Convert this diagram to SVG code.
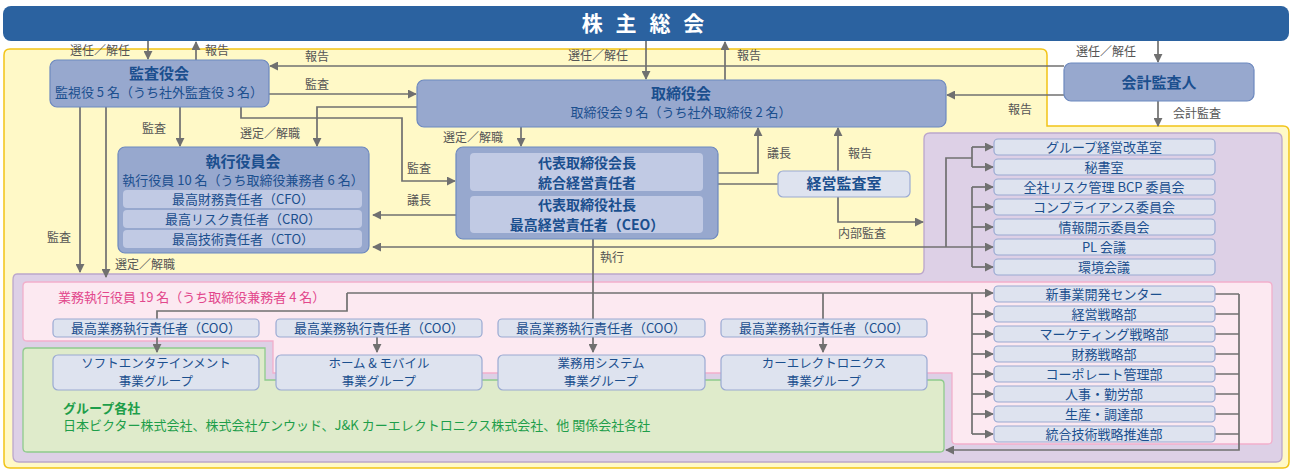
<svg xmlns="http://www.w3.org/2000/svg" width="1291" height="470" viewBox="0 0 1291 470">
<defs>
<style>
text{font-family:"Noto Sans CJK JP","Noto Sans",sans-serif;}
.t{fill:#1B4F8E;font-size:13px;text-anchor:middle;}
.t2{fill:#1B4F8E;font-size:12.5px;text-anchor:middle;}
.tb{fill:#1B4F8E;font-size:15px;font-weight:bold;text-anchor:middle;}
.tb2{fill:#1B4F8E;font-size:14px;font-weight:bold;text-anchor:middle;}
.lb{fill:#555;font-size:12px;}
.dark{fill:#97A8CE;stroke:#6D89BF;stroke-width:1.2;}
.inner{fill:#C1CAE4;stroke:none;}
.light{fill:#DEE3EF;stroke:#9AAAD2;stroke-width:1.2;}
.c{fill:none;stroke:#707070;stroke-width:1.7;}
.a{marker-end:url(#ah);}
</style>
<marker id="ah" viewBox="0 0 10 10" refX="9" refY="5" markerWidth="9" markerHeight="9" markerUnits="userSpaceOnUse" orient="auto">
<path d="M0,0 L10,5 L0,10 z" fill="#707070"/>
</marker>
</defs>

<!-- regions -->
<path d="M10,49 H1041 Q1047,49 1047,55 V126 H1283 Q1289,126 1289,132 V462 Q1289,468 1283,468 H10 Q4,468 4,462 V55 Q4,49 10,49 Z" fill="#FFF9C7" stroke="#F2C417" stroke-width="1.5"/>
<path d="M17,274 H919 Q924,274 924,268 V139 Q924,133 930,133 H1276 Q1282,133 1282,139 V456 Q1282,462 1276,462 H19 Q13,462 13,456 V280 Q13,274 17,274 Z" fill="#DDD0E6" stroke="#BBA6CC" stroke-width="1.3"/>
<path d="M27,282 H1268 Q1272,282 1272,286 V440 Q1272,444 1268,444 H956 Q952,444 952,440 V373 H273 V341 H27 Q23,341 23,337 V286 Q23,282 27,282 Z" fill="#FCE9F1" stroke="#F2AFCB" stroke-width="1.3"/>
<path d="M27,348 H265 V380 H940 Q944,380 944,384 V448 Q944,452 940,452 H27 Q23,452 23,448 V352 Q23,348 27,348 Z" fill="#DFEBCB" stroke="#8FCB8D" stroke-width="1.3"/>

<!-- connectors -->
<g id="connectors">
<path class="c a" d="M148,41 V59"/>
<path class="c a" d="M196,60 V42"/>
<path class="c a" d="M646,41 V79"/>
<path class="c a" d="M725,80 V42"/>
<path class="c a" d="M1158,41 V62"/>
<path class="c a" d="M1158,101 V126"/>
<path class="c a" d="M1064,66 H270"/>
<path class="c a" d="M1064,95 H947"/>
<path class="c a" d="M269,94 H416"/>
<path class="c a" d="M241,107 V118 H402 V181 H455"/>
<path class="c a" d="M417,107 H317 V146"/>
<path class="c a" d="M521,127 V146"/>
<path class="c a" d="M180,107 V146"/>
<path class="c a" d="M80,107 V272"/>
<path class="c a" d="M106,107 V277"/>
<path class="c a" d="M703,173 H758 V128"/>
<path class="c a" d="M838,171 V128"/>
<path class="c" d="M718,184 H778"/>
<path class="c a" d="M838,197 V222 H923"/>
<path class="c a" d="M456,215 H373"/>
<path class="c a" d="M946,247 H373"/>
<path class="c" d="M946,247 V158 H972"/>
<path class="c" d="M972,147 V167"/>
<path class="c a" d="M972,147 H993"/>
<path class="c a" d="M972,167 H993"/>
<path class="c" d="M972,187 V267"/>
<path class="c a" d="M972,187 H993"/>
<path class="c a" d="M972,207 H993"/>
<path class="c a" d="M972,227 H993"/>
<path class="c a" d="M946,247 H993"/>
<path class="c a" d="M972,267 H993"/>
<path class="c a" d="M593,239 V352"/>
<path class="c a" d="M347,293 H993"/>
<path class="c a" d="M347,293 V311 H157 V352"/>
<path class="c a" d="M377,337 V352"/>
<path class="c a" d="M823,293 V352"/>
<path class="c" d="M972,293 V434"/>
<path class="c a" d="M972,314 H993"/>
<path class="c a" d="M972,334 H993"/>
<path class="c a" d="M972,354 H993"/>
<path class="c a" d="M972,374 H993"/>
<path class="c a" d="M972,394 H993"/>
<path class="c a" d="M972,414 H993"/>
<path class="c a" d="M972,434 H993"/>
<path class="c" d="M1215,294 H1239 M1215,314 H1239 M1215,334 H1239 M1215,354 H1239 M1215,374 H1239 M1215,394 H1239 M1215,414 H1239 M1215,434 H1239"/>
<path class="c a" d="M1239,294 V450 H946"/>
</g>

<!-- connector labels -->
<g id="labels">
<text class="lb" x="70" y="55">選任／解任</text>
<text class="lb" x="205" y="55">報告</text>
<text class="lb" x="305" y="61">報告</text>
<text class="lb" x="305" y="89">監査</text>
<text class="lb" x="568" y="60">選任／解任</text>
<text class="lb" x="737" y="60">報告</text>
<text class="lb" x="1076" y="56">選任／解任</text>
<text class="lb" x="1008" y="114">報告</text>
<text class="lb" x="1173" y="118">会計監査</text>
<text class="lb" x="142" y="133">監査</text>
<text class="lb" x="240" y="138">選定／解職</text>
<text class="lb" x="443" y="142">選定／解職</text>
<text class="lb" x="407" y="173">監査</text>
<text class="lb" x="407" y="205">議長</text>
<text class="lb" x="767" y="158">議長</text>
<text class="lb" x="848" y="158">報告</text>
<text class="lb" x="838" y="238">内部監査</text>
<text class="lb" x="47" y="242">監査</text>
<text class="lb" x="115" y="269">選定／解職</text>
<text class="lb" x="600" y="262">執行</text>
</g>

<!-- nodes -->
<g id="n-shareholders">
<rect x="3" y="6" width="1286" height="35" rx="8" fill="#2B62A0"/>
<text x="645" y="31" fill="#fff" font-size="21" font-weight="bold" text-anchor="middle" letter-spacing="4">株 主 総 会</text>
</g>

<g id="n-kansayakukai">
<rect class="dark" x="50" y="60" width="219" height="47" rx="7"/>
<text class="tb" x="159" y="79">監査役会</text>
<text class="t" x="159" y="97">監視役 5 名（うち社外監査役 3 名）</text>
</g>

<g id="n-torishimariyakukai">
<rect class="dark" x="417" y="80" width="529" height="47" rx="7"/>
<text class="tb" x="681" y="99">取締役会</text>
<text class="t" x="681" y="117">取締役会 9 名（うち社外取締役 2 名）</text>
</g>

<g id="n-kaikei">
<rect class="dark" x="1064" y="63" width="190" height="38" rx="7"/>
<text class="tb" x="1159" y="88">会計監査人</text>
</g>

<g id="n-shikkoyakuinkai">
<rect class="dark" x="118" y="147" width="251" height="106" rx="7"/>
<text class="tb" x="243" y="167">執行役員会</text>
<text class="t" x="243" y="185">執行役員 10 名（うち取締役兼務者 6 名）</text>
<rect class="inner" x="123" y="190" width="239" height="18" rx="4"/>
<text class="t" x="243" y="204">最高財務責任者（CFO）</text>
<rect class="inner" x="123" y="210" width="239" height="18" rx="4"/>
<text class="t" x="243" y="224">最高リスク責任者（CRO）</text>
<rect class="inner" x="123" y="230" width="239" height="18" rx="4"/>
<text class="t" x="243" y="244">最高技術責任者（CTO）</text>
</g>

<g id="n-daihyo">
<rect class="dark" x="456" y="147" width="262" height="92" rx="7"/>
<rect class="inner" x="470" y="153" width="233" height="38" rx="4"/>
<text class="tb2" x="587" y="167.5">代表取締役会長</text>
<text class="tb2" x="587" y="187.5">統合経営責任者</text>
<rect class="inner" x="470" y="196" width="233" height="37" rx="4"/>
<text class="tb2" x="587" y="210">代表取締役社長</text>
<text class="tb2" x="587" y="230">最高経営責任者（CEO）</text>
</g>

<g id="n-keieikansa">
<rect class="light" x="778" y="171" width="132" height="26" rx="5"/>
<text class="tb" x="844" y="189">経営監査室</text>
</g>

<g id="n-staff">
<rect class="light" x="994" y="139" width="221" height="16" rx="4"/><text class="t" x="1104" y="152">グループ経営改革室</text>
<rect class="light" x="994" y="159" width="221" height="16" rx="4"/><text class="t" x="1104" y="172">秘書室</text>
<rect class="light" x="994" y="179" width="221" height="16" rx="4"/><text class="t" x="1104" y="192">全社リスク管理 BCP 委員会</text>
<rect class="light" x="994" y="199" width="221" height="16" rx="4"/><text class="t" x="1104" y="212">コンプライアンス委員会</text>
<rect class="light" x="994" y="219" width="221" height="16" rx="4"/><text class="t" x="1104" y="232">情報開示委員会</text>
<rect class="light" x="994" y="239" width="221" height="16" rx="4"/><text class="t" x="1104" y="252">PL 会議</text>
<rect class="light" x="994" y="259" width="221" height="16" rx="4"/><text class="t" x="1104" y="272">環境会議</text>
</g>

<g id="n-depts">
<rect class="light" x="994" y="286" width="221" height="16" rx="4"/><text class="t" x="1104" y="299">新事業開発センター</text>
<rect class="light" x="994" y="306" width="221" height="16" rx="4"/><text class="t" x="1104" y="319">経営戦略部</text>
<rect class="light" x="994" y="326" width="221" height="16" rx="4"/><text class="t" x="1104" y="339">マーケティング戦略部</text>
<rect class="light" x="994" y="346" width="221" height="16" rx="4"/><text class="t" x="1104" y="359">財務戦略部</text>
<rect class="light" x="994" y="366" width="221" height="16" rx="4"/><text class="t" x="1104" y="379">コーポレート管理部</text>
<rect class="light" x="994" y="386" width="221" height="16" rx="4"/><text class="t" x="1104" y="399">人事・勤労部</text>
<rect class="light" x="994" y="406" width="221" height="16" rx="4"/><text class="t" x="1104" y="419">生産・調達部</text>
<rect class="light" x="994" y="426" width="221" height="16" rx="4"/><text class="t" x="1104" y="439">統合技術戦略推進部</text>
</g>

<g id="n-gyomu-label">
<text x="58" y="302" fill="#E2478C" font-size="13">業務執行役員 19 名（うち取締役兼務者 4 名）</text>
</g>

<g id="n-coo">
<rect class="light" x="53" y="319" width="206" height="18" rx="4"/><text class="t" x="156" y="333">最高業務執行責任者（COO）</text>
<rect class="light" x="276" y="319" width="206" height="18" rx="4"/><text class="t" x="379" y="333">最高業務執行責任者（COO）</text>
<rect class="light" x="498" y="319" width="207" height="18" rx="4"/><text class="t" x="601" y="333">最高業務執行責任者（COO）</text>
<rect class="light" x="721" y="319" width="206" height="18" rx="4"/><text class="t" x="824" y="333">最高業務執行責任者（COO）</text>
</g>

<g id="n-groups">
<rect class="light" x="53" y="355" width="206" height="35" rx="5"/>
<text class="t2" x="156" y="368">ソフトエンタテインメント</text><text class="t2" x="156" y="385.5">事業グループ</text>
<rect class="light" x="276" y="355" width="206" height="35" rx="5"/>
<text class="t2" x="379" y="368">ホーム &amp; モバイル</text><text class="t2" x="379" y="385.5">事業グループ</text>
<rect class="light" x="498" y="355" width="207" height="35" rx="5"/>
<text class="t2" x="601" y="368">業務用システム</text><text class="t2" x="601" y="385.5">事業グループ</text>
<rect class="light" x="721" y="355" width="206" height="35" rx="5"/>
<text class="t2" x="824" y="368">カーエレクトロニクス</text><text class="t2" x="824" y="385.5">事業グループ</text>
</g>

<g id="n-kakusha">
<text x="63" y="413" fill="#1E9E4A" font-size="13" font-weight="bold">グループ各社</text>
<text x="63" y="430" fill="#1E9E4A" font-size="13">日本ビクター株式会社、株式会社ケンウッド、J&amp;K カーエレクトロニクス株式会社、他 関係会社各社</text>
</g>
</svg>
